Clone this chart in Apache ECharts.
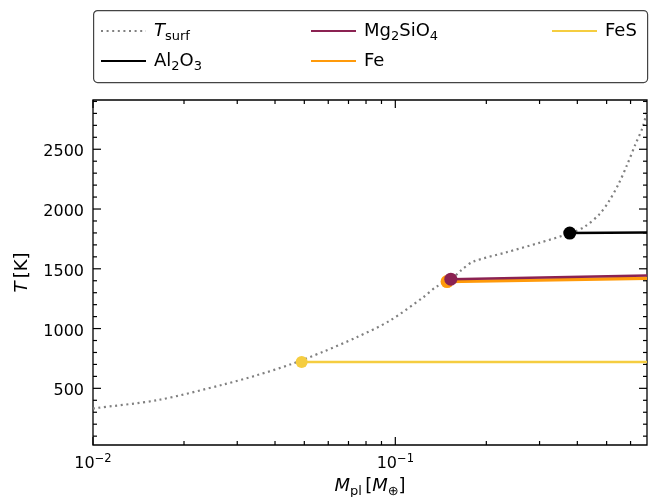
<!DOCTYPE html>
<html>
<head>
<meta charset="utf-8">
<script src="https://cdn.jsdelivr.net/npm/echarts@6/dist/echarts.min.js"></script>
<style>
html,body{margin:0;padding:0;background:#fff;}
#chart{width:655px;height:497px;}
</style>
</head>
<body>
<div id="chart"></div>
<script>
// ---- data ----
const tsurfMass = [0.01, 0.0101, 0.0164, 0.0271, 0.0350, 0.0451, 0.0577, 0.0745, 0.0959, 0.1236, 0.1368, 0.1526, 0.1656, 0.1808, 0.2331, 0.3004, 0.3775, 0.423, 0.4742, 0.507, 0.547, 0.583, 0.6216, 0.659, 0.68];
const tsurfT    = [330, 333, 402, 533, 611, 701, 806, 927, 1066, 1261, 1350, 1410, 1490, 1559, 1638, 1718, 1797, 1852, 1959, 2058, 2207, 2363, 2537, 2689, 2825];

const al2o3Mass = [0.3775, 0.68];
const al2o3T    = [1799, 1803];
const mg2sio4Mass = [0.1526, 0.68];
const mg2sio4T    = [1413, 1444];
const feMass = [0.1483, 0.68];
const feT    = [1393, 1421];
const fesMass = [0.049, 0.68];
const fesT    = [720, 720];

const xMajorTicks = [0.01, 0.1];
const xMinorTicks = [0.02, 0.03, 0.04, 0.05, 0.06, 0.07, 0.08, 0.09, 0.2, 0.3, 0.4, 0.5, 0.6];
const yMajorTicks = [500, 1000, 1500, 2000, 2500];
const yMinorTicks = [100, 200, 300, 400, 600, 700, 800, 900, 1100, 1200, 1300, 1400, 1600, 1700, 1800, 1900, 2100, 2200, 2300, 2400, 2600, 2700, 2800, 2900];

const X_MIN = 0.01, X_MAX = 0.68, Y_MIN = 26, Y_MAX = 2912;

// ---- helpers ----
function zip(a, b) { return a.map((v, i) => [v, b[i]]); }
const FONT = 'DejaVu Sans';
const COL = { tsurf: '#808080', al: '#000000', mg: '#8B2252', fe: '#FF9A0A', fes: '#F5CD40' };

const legendNames = {
  'Tsurf': '{it|T}{sub|surf}',
  'Al2O3': '{n|Al}{sub|2}{n|O}{sub|3}',
  'Mg2SiO4': '{n|Mg}{sub|2}{n|SiO}{sub|4}',
  'Fe': '{n|Fe}',
  'FeS': '{n|FeS}'
};
const legendRich = {
  n: { fontFamily: FONT, fontSize: 18, color: '#000', lineHeight: 24 },
  it: { fontFamily: FONT, fontSize: 18, fontStyle: 'italic', color: '#000', lineHeight: 24 },
  sub: { fontFamily: FONT, fontSize: 13, color: '#000', lineHeight: 14, verticalAlign: 'bottom' }
};
function mkLegend(name, left, top) {
  return {
    data: [name], left: left, top: top, itemWidth: 45, itemHeight: 14, itemGap: 0,
    padding: 0, selectedMode: false,
    itemStyle: { opacity: 0 },
    formatter: n => legendNames[n],
    textStyle: { rich: legendRich, fontFamily: FONT, fontSize: 18, color: '#000', padding: [0, 0, 0, 3] }
  };
}

const tickData = []
  .concat(xMajorTicks.map(v => [v, 1000, 0]))
  .concat(xMinorTicks.map(v => [v, 1000, 1]))
  .concat(yMajorTicks.map(v => [0.1, v, 2]))
  .concat(yMinorTicks.map(v => [0.1, v, 3]));

const chart = echarts.init(document.getElementById('chart'), null, { renderer: 'canvas' });
const option = {
  animation: false,
  backgroundColor: '#fff',
  grid: { left: 93, right: 8, top: 100, bottom: 52, outerBoundsMode: 'none', containLabel: false, show: true, borderColor: '#000', borderWidth: 1.3, backgroundColor: 'transparent' },
  graphic: [{
    type: 'rect', left: 93, top: 10, z: 0,
    shape: { width: 554, height: 72, r: 4 },
    style: { fill: '#fff', stroke: '#444', lineWidth: 1.2 }
  }],
  legend: [
    mkLegend('Tsurf', 100, 22),
    mkLegend('Al2O3', 100, 52),
    mkLegend('Mg2SiO4', 310, 22),
    mkLegend('Fe', 310, 52),
    mkLegend('FeS', 551, 22)
  ],
  xAxis: {
    type: 'log', logBase: 10, min: X_MIN, max: X_MAX,
    axisLine: { show: false }, axisTick: { show: false }, splitLine: { show: false },
    axisLabel: {
      showMaxLabel: false, margin: 8,
      formatter: function (v) {
        const l = Math.log10(v); const e = Math.round(l);
        if (Math.abs(l - e) > 1e-6) return '';
        return '{b|10}{p|' + (e < 0 ? '\u2212' : '') + Math.abs(e) + '}';
      },
      rich: {
        b: { fontFamily: FONT, fontSize: 16, color: '#000', lineHeight: 22 },
        p: { fontFamily: FONT, fontSize: 11.5, color: '#000', lineHeight: 11, verticalAlign: 'top' }
      }
    },
    name: '{it|M}{sub|pl} {n|[}{it|M}{sub|\u2295}{n|]}',
    nameLocation: 'middle', nameGap: 28,
    nameTextStyle: {
      rich: {
        n: { fontFamily: FONT, fontSize: 18, color: '#000', lineHeight: 24 },
        it: { fontFamily: FONT, fontSize: 18, fontStyle: 'italic', color: '#000', lineHeight: 24 },
        sub: { fontFamily: FONT, fontSize: 13, color: '#000', lineHeight: 14, verticalAlign: 'bottom' }
      }
    }
  },
  yAxis: {
    type: 'value', min: Y_MIN, max: Y_MAX,
    axisLine: { show: false }, axisTick: { show: false }, splitLine: { show: false },
    axisLabel: {
      showMinLabel: false, showMaxLabel: false, margin: 9,
      formatter: v => (v % 500 === 0 && v > 0) ? '{v|' + v + '}' : '',
      rich: {
        v: { fontFamily: FONT, fontSize: 16, color: '#000', lineHeight: 18, padding: [6, 0, 0, 0] }
      }
    },
    name: '{it|T} {n|[K]}', nameLocation: 'middle', nameGap: 62, nameRotate: 90,
    nameTextStyle: {
      rich: {
        n: { fontFamily: FONT, fontSize: 18, color: '#000' },
        it: { fontFamily: FONT, fontSize: 18, fontStyle: 'italic', color: '#000' }
      }
    }
  },
  series: [
    {
      name: 'Tsurf', type: 'line', data: zip(tsurfMass, tsurfT), symbol: 'none', smooth: 0.3, z: 2,
      lineStyle: { color: COL.tsurf, width: 2.2, type: [2, 3.6], cap: 'butt' }, itemStyle: { color: COL.tsurf }
    },
    {
      name: 'FeS', type: 'line', data: zip(fesMass, fesT), symbol: 'none', z: 3,
      lineStyle: { color: COL.fes, width: 2.6 }, itemStyle: { color: COL.fes }
    },
    {
      name: 'Fe', type: 'line', data: zip(feMass, feT), symbol: 'none', z: 3,
      lineStyle: { color: COL.fe, width: 3.4 }, itemStyle: { color: COL.fe }
    },
    {
      name: 'Mg2SiO4', type: 'line', data: zip(mg2sio4Mass, mg2sio4T), symbol: 'none', z: 4,
      lineStyle: { color: COL.mg, width: 2.4 }, itemStyle: { color: COL.mg }
    },
    {
      name: 'Al2O3', type: 'line', data: zip(al2o3Mass, al2o3T), symbol: 'none', z: 4,
      lineStyle: { color: COL.al, width: 2.6 }, itemStyle: { color: COL.al }
    },
    { name: 'FeS dot', type: 'scatter', data: [[fesMass[0], fesT[0]]], symbolSize: 12, itemStyle: { color: COL.fes, opacity: 1 }, z: 5 },
    { name: 'Fe dot', type: 'scatter', data: [[feMass[0], feT[0]]], symbolSize: 13, itemStyle: { color: COL.fe, opacity: 1 }, z: 5 },
    { name: 'Mg dot', type: 'scatter', data: [[mg2sio4Mass[0], mg2sio4T[0]]], symbolSize: 13, itemStyle: { color: COL.mg, opacity: 1 }, z: 6 },
    { name: 'Al dot', type: 'scatter', data: [[al2o3Mass[0], al2o3T[0]]], symbolSize: 13, itemStyle: { color: COL.al, opacity: 1 }, z: 6 },
    {
      name: 'ticks', type: 'custom', data: tickData, z: 10, silent: true, clip: false,
      renderItem: function (params, api) {
        const kind = api.value(2);
        const len = (kind === 0 || kind === 2) ? 8 : 4;
        const ls = { stroke: '#000', lineWidth: 1.2 };
        if (kind < 2) {
          const xv = api.value(0);
          const pb = api.coord([xv, Y_MIN]);
          const pt = api.coord([xv, Y_MAX]);
          return { type: 'group', children: [
            { type: 'line', shape: { x1: pb[0], y1: pb[1], x2: pb[0], y2: pb[1] - len }, style: ls },
            { type: 'line', shape: { x1: pt[0], y1: pt[1], x2: pt[0], y2: pt[1] + len }, style: ls }
          ] };
        } else {
          const yv = api.value(1);
          const pl = api.coord([X_MIN, yv]);
          const pr = api.coord([X_MAX, yv]);
          return { type: 'group', children: [
            { type: 'line', shape: { x1: pl[0], y1: pl[1], x2: pl[0] + len, y2: pl[1] }, style: ls },
            { type: 'line', shape: { x1: pr[0], y1: pr[1], x2: pr[0] - len, y2: pr[1] }, style: ls }
          ] };
        }
      }
    }
  ]
};
chart.setOption(option);
</script>
</body>
</html>
